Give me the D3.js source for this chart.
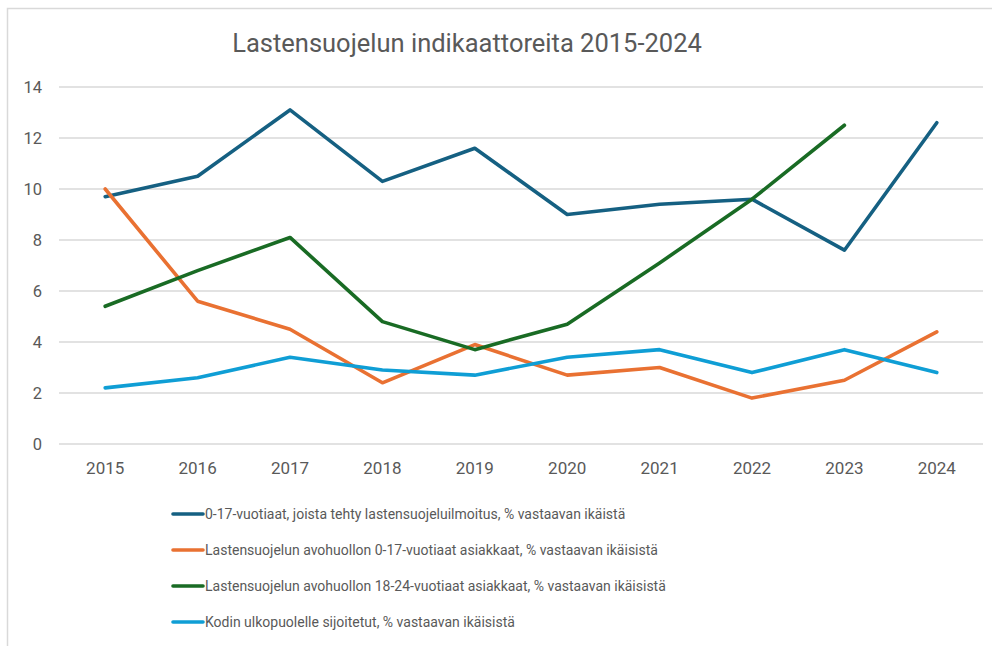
<!DOCTYPE html>
<html>
<head>
<meta charset="utf-8">
<script src="https://cdn.jsdelivr.net/npm/d3@7"></script>
<style>
  html, body { margin: 0; padding: 0; background: #fff; }
  svg { display: block; font-family: Roboto, "Open Sans", sans-serif; }
</style>
</head>
<body>
<svg id="chart" width="992" height="646"></svg>
<script>
const title = "Lastensuojelun indikaattoreita 2015-2024";
const years = ["2015","2016","2017","2018","2019","2020","2021","2022","2023","2024"];
const yTicks = [0, 2, 4, 6, 8, 10, 12, 14];

const seriesNames = [
  "0-17-vuotiaat, joista tehty lastensuojeluilmoitus, % vastaavan ikäistä",
  "Lastensuojelun avohuollon 0-17-vuotiaat asiakkaat, % vastaavan ikäisistä",
  "Lastensuojelun avohuollon 18-24-vuotiaat asiakkaat, % vastaavan ikäisistä",
  "Kodin ulkopuolelle sijoitetut, % vastaavan ikäisistä"
];
const ilmoitus   = [9.7, 10.5, 13.1, 10.3, 11.6, 9.0, 9.4, 9.6, 7.6, 12.6];
const avo0017    = [10.0, 5.6, 4.5, 2.4, 3.9, 2.7, 3.0, 1.8, 2.5, 4.4];
const avo1824    = [5.4, 6.8, 8.1, 4.8, 3.7, 4.7, 7.1, 9.6, 12.5, null];
const sijoitetut = [2.2, 2.6, 3.4, 2.9, 2.7, 3.4, 3.7, 2.8, 3.7, 2.8];
const seriesValues = [ilmoitus, avo0017, avo1824, sijoitetut];
const colors = ["#156082", "#E97132", "#196B24", "#0F9ED5"];

const svg = d3.select("#chart");
const textColor = "#595959";

// chart border (top and left visible)
svg.append("path")
  .attr("d", "M7.5,646 L7.5,8.5 L992,8.5")
  .attr("fill", "none").attr("stroke", "#d9d9d9").attr("stroke-width", 1.5);

const plot = { left: 59, right: 983, top: 87, bottom: 444 };

const x = d3.scaleBand().domain(years).range([plot.left, plot.right]);
const y = d3.scaleLinear().domain([0, 14]).range([plot.bottom, plot.top]);

// gridlines
svg.append("g").selectAll("line").data(yTicks).join("line")
  .attr("x1", plot.left).attr("x2", plot.right)
  .attr("y1", d => y(d)).attr("y2", d => y(d))
  .attr("stroke", "#d9d9d9").attr("stroke-width", 1.5);

// y axis labels
const yAxis = d3.axisLeft(y).tickValues(yTicks).tickSize(0).tickPadding(0);
const gy = svg.append("g").attr("transform", `translate(${plot.left - 17},0)`).call(yAxis);
gy.select(".domain").remove();
gy.selectAll("text").attr("fill", textColor).style("font-size", "16.5px").attr("font-family", "Roboto, sans-serif");

// x axis labels
const xAxis = d3.axisBottom(x).tickSize(0).tickPadding(0);
const gx = svg.append("g").attr("transform", `translate(0,${plot.bottom + 18})`).call(xAxis);
gx.select(".domain").remove();
gx.selectAll("text").attr("fill", textColor).style("font-size", "17px").attr("font-family", "Roboto, sans-serif");

// lines
const line = d3.line()
  .defined(d => d.v !== null)
  .x(d => x(d.year) + x.bandwidth() / 2)
  .y(d => y(d.v));

seriesValues.forEach((vals, i) => {
  const pts = years.map((yr, j) => ({ year: yr, v: vals[j] }));
  svg.append("path")
    .datum(pts)
    .attr("fill", "none")
    .attr("stroke", colors[i])
    .attr("stroke-width", 3.6)
    .attr("stroke-linejoin", "round")
    .attr("stroke-linecap", "round")
    .attr("d", line);
});

// title
svg.append("text")
  .attr("x", 467).attr("y", 52)
  .attr("text-anchor", "middle")
  .attr("fill", textColor)
  .style("font-size", "25.5px")
  .text(title);

// legend
const legend = svg.append("g");
seriesNames.forEach((name, i) => {
  const ly = 514 + i * 36;
  legend.append("line")
    .attr("x1", 173).attr("x2", 203)
    .attr("y1", ly).attr("y2", ly)
    .attr("stroke", colors[i]).attr("stroke-width", 3.6)
    .attr("stroke-linecap", "round");
  legend.append("text")
    .attr("x", 205).attr("y", ly + 5)
    .attr("fill", textColor)
    .style("font-size", "14px")
    .attr("font-family", "Roboto, sans-serif")
    .text(name);
});
</script>
</body>
</html>
